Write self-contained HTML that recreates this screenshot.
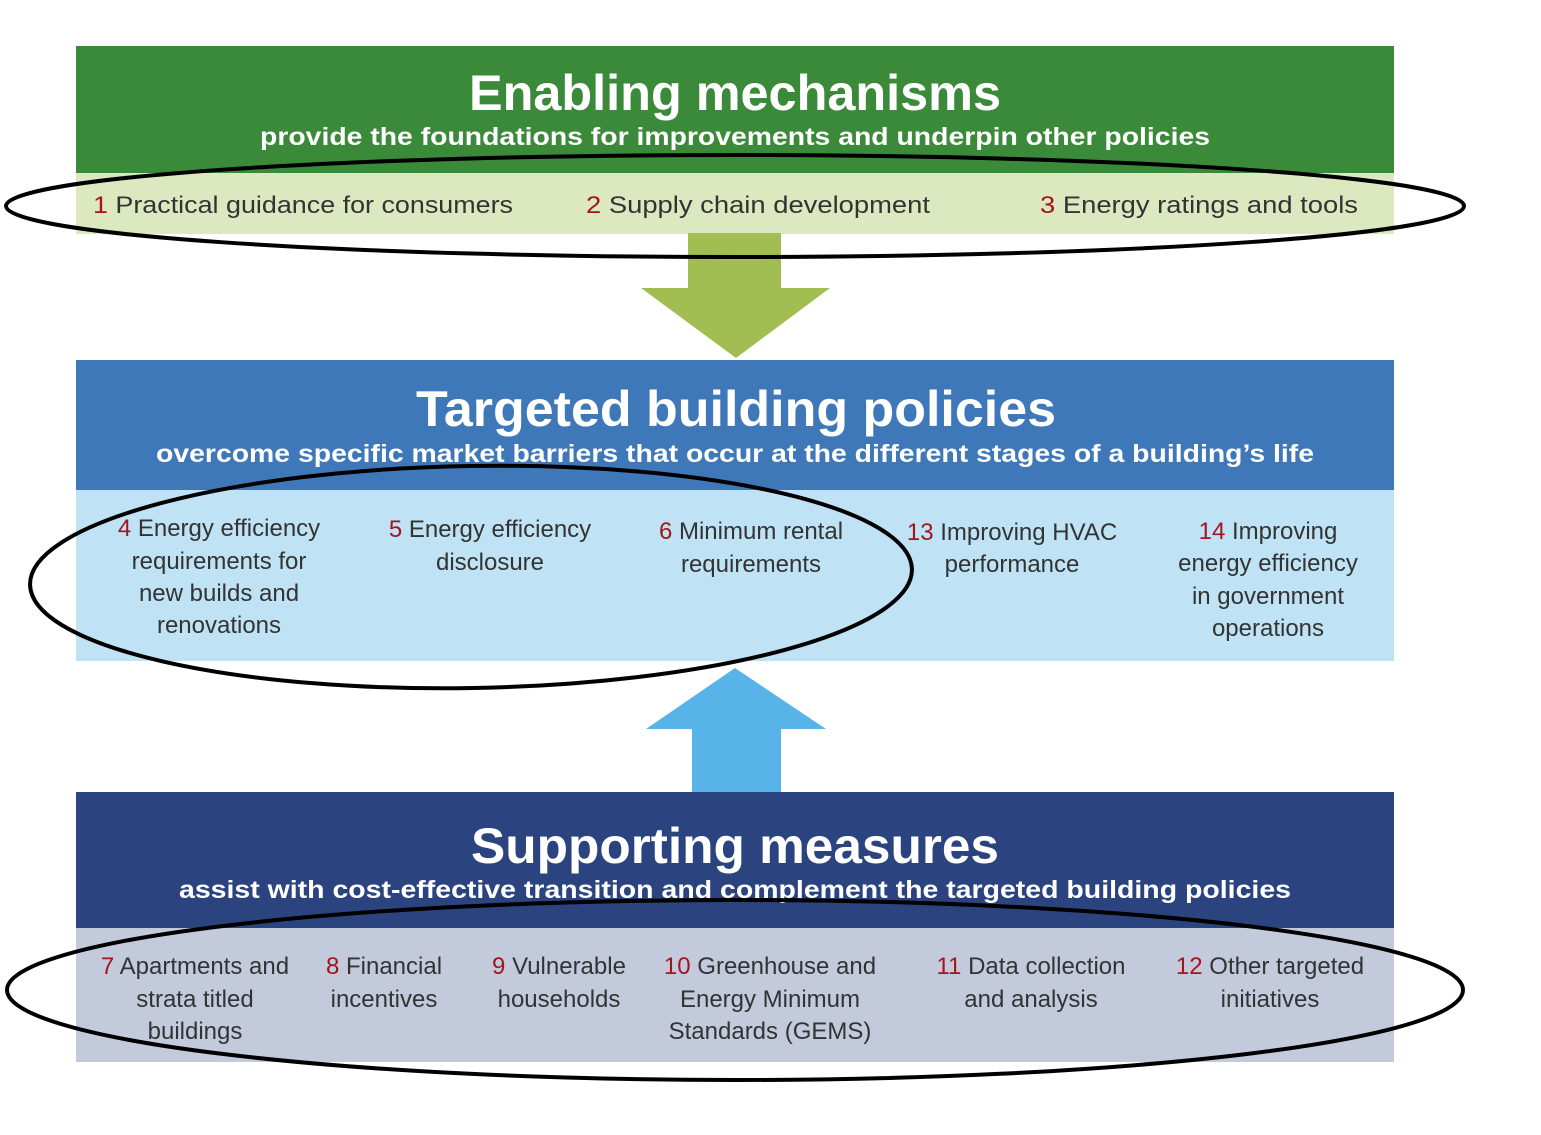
<!DOCTYPE html>
<html><head><meta charset="utf-8"><style>html,body{margin:0;padding:0;background:#fff}svg{display:block}</style></head>
<body>
<svg width="1541" height="1135" viewBox="0 0 1541 1135" xmlns="http://www.w3.org/2000/svg" font-family="Liberation Sans, sans-serif">
<rect x="0" y="0" width="1541" height="1135" fill="#fff"/>
<!-- Enabling -->
<rect x="76" y="46" width="1318" height="128" fill="#3a8a3a"/>
<rect x="76" y="173" width="1318" height="61" fill="#dce8bf"/>
<polygon points="688,233 781,233 781,288 830,288 736,358 641,288 688,288" fill="#a2bd52"/>
<!-- Targeted -->
<rect x="76" y="360" width="1318" height="131" fill="#3f78b8"/>
<rect x="76" y="490" width="1318" height="171" fill="#bfe3f5"/>
<polygon points="735,668 826,729 781,729 781,792 692,792 692,729 646,729" fill="#57b3e8"/>
<!-- Supporting -->
<rect x="76" y="792" width="1318" height="137" fill="#2b437e"/>
<rect x="76" y="928" width="1318" height="134" fill="#c3cadb"/>

<g fill="#fff" text-anchor="middle" font-weight="bold">
<text x="735" y="110" font-size="50" textLength="532" lengthAdjust="spacingAndGlyphs">Enabling mechanisms</text>
<text x="735" y="145" font-size="25" textLength="950" lengthAdjust="spacingAndGlyphs">provide the foundations for improvements and underpin other policies</text>
<text x="736" y="426" font-size="50" textLength="640" lengthAdjust="spacingAndGlyphs">Targeted building policies</text>
<text x="735" y="462" font-size="25" textLength="1158" lengthAdjust="spacingAndGlyphs">overcome specific market barriers that occur at the different stages of a building’s life</text>
<text x="735" y="863" font-size="50" textLength="528" lengthAdjust="spacingAndGlyphs">Supporting measures</text>
<text x="735" y="898" font-size="25" textLength="1112" lengthAdjust="spacingAndGlyphs">assist with cost-effective transition and complement the targeted building policies</text>
</g>

<g fill="#333" font-size="24" text-anchor="middle">
<text x="303" y="213" textLength="420" lengthAdjust="spacingAndGlyphs"><tspan fill="#a3141e">1</tspan> Practical guidance for consumers</text>
<text x="758" y="213" textLength="344" lengthAdjust="spacingAndGlyphs"><tspan fill="#a3141e">2</tspan> Supply chain development</text>
<text x="1199" y="213" textLength="318" lengthAdjust="spacingAndGlyphs"><tspan fill="#a3141e">3</tspan> Energy ratings and tools</text>

<text x="219" y="536"><tspan fill="#a3141e">4</tspan> Energy efficiency</text>
<text x="219" y="569">requirements for</text>
<text x="219" y="601">new builds and</text>
<text x="219" y="633">renovations</text>
<text x="490" y="537"><tspan fill="#a3141e">5</tspan> Energy efficiency</text>
<text x="490" y="570">disclosure</text>
<text x="751" y="539"><tspan fill="#a3141e">6</tspan> Minimum rental</text>
<text x="751" y="572">requirements</text>
<text x="1012" y="540"><tspan fill="#a3141e">13</tspan> Improving HVAC</text>
<text x="1012" y="572">performance</text>
<text x="1268" y="539"><tspan fill="#a3141e">14</tspan> Improving</text>
<text x="1268" y="571">energy efficiency</text>
<text x="1268" y="604">in government</text>
<text x="1268" y="636">operations</text>

<text x="195" y="974"><tspan fill="#a3141e">7</tspan> Apartments and</text>
<text x="195" y="1007">strata titled</text>
<text x="195" y="1039">buildings</text>
<text x="384" y="974"><tspan fill="#a3141e">8</tspan> Financial</text>
<text x="384" y="1007">incentives</text>
<text x="559" y="974"><tspan fill="#a3141e">9</tspan> Vulnerable</text>
<text x="559" y="1007">households</text>
<text x="770" y="974"><tspan fill="#a3141e">10</tspan> Greenhouse and</text>
<text x="770" y="1007">Energy Minimum</text>
<text x="770" y="1039">Standards (GEMS)</text>
<text x="1031" y="974"><tspan fill="#a3141e">11</tspan> Data collection</text>
<text x="1031" y="1007">and analysis</text>
<text x="1270" y="974"><tspan fill="#a3141e">12</tspan> Other targeted</text>
<text x="1270" y="1007">initiatives</text>
</g>

<g fill="none" stroke="#000" stroke-width="4">
<ellipse cx="735" cy="206" rx="729" ry="51"/>
<ellipse cx="471" cy="577" rx="441" ry="111" transform="rotate(-1 471 577)"/>
<ellipse cx="735" cy="990" rx="728" ry="90"/>
</g>
</svg>
</body></html>
